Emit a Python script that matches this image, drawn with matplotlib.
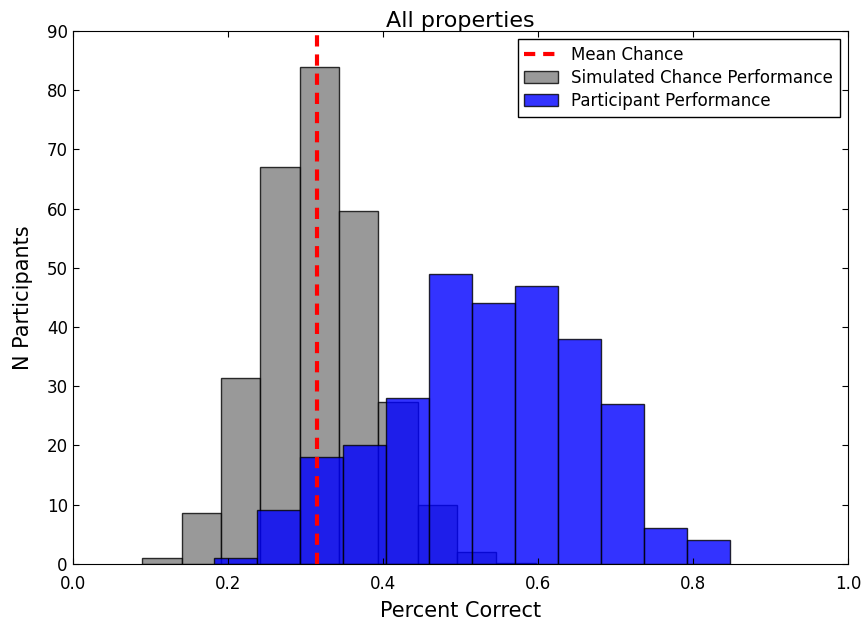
import numpy as np
import matplotlib
matplotlib.use("Agg")
import matplotlib.pyplot as plt

# Simulated chance performance (averaged counts per bin)
chance_edges = np.linspace(0.0898, 0.5972, 11)
chance_counts = [1.0, 8.5, 31.3, 67.1, 84.0, 59.6, 27.3, 9.9, 2.0, 0.2]

# Participant performance
part_edges = np.linspace(0.182, 0.848, 13)
part_counts = [1, 9, 18, 20, 28, 49, 44, 47, 38, 27, 6, 4]

mean_chance = 0.3155

fig = plt.figure(figsize=(8.64, 6.25), dpi=100)
ax = fig.add_axes([0.0841, 0.0981, 0.8974, 0.8523])

ax.hist(chance_edges[:-1], bins=chance_edges, weights=chance_counts,
        color="gray", alpha=0.8, edgecolor="black", linewidth=1,
        label="Simulated Chance Performance")
ax.hist(part_edges[:-1], bins=part_edges, weights=part_counts,
        color="blue", alpha=0.8, edgecolor="black", linewidth=1,
        label="Participant Performance")
ax.axvline(mean_chance, color="red", linestyle="--", linewidth=3,
           dashes=(2.7, 1.9), label="Mean Chance")

ax.set_xlim(0, 1)
ax.set_ylim(0, 90)
ax.set_xticks(np.arange(0, 1.01, 0.2))
ax.set_yticks(np.arange(0, 91, 10))
ax.tick_params(direction="in", top=True, right=True, length=4, labelsize=12)
ax.tick_params(axis="x", pad=8)
ax.set_xlabel("Percent Correct", fontsize=15, labelpad=6)
ax.set_ylabel("N Participants", fontsize=15, labelpad=10)
ax.set_title("All properties", fontsize=16, pad=3)

handles, labels = ax.get_legend_handles_labels()
order = [labels.index("Mean Chance"), labels.index("Simulated Chance Performance"),
         labels.index("Participant Performance")]
leg = ax.legend([handles[i] for i in order], [labels[i] for i in order],
                loc="upper right", fontsize=12, fancybox=False,
                framealpha=1, edgecolor="black", borderaxespad=0.5,
                handlelength=2, labelspacing=0.3)
leg.get_frame().set_linewidth(1)

fig.savefig("out.png", dpi=100)
